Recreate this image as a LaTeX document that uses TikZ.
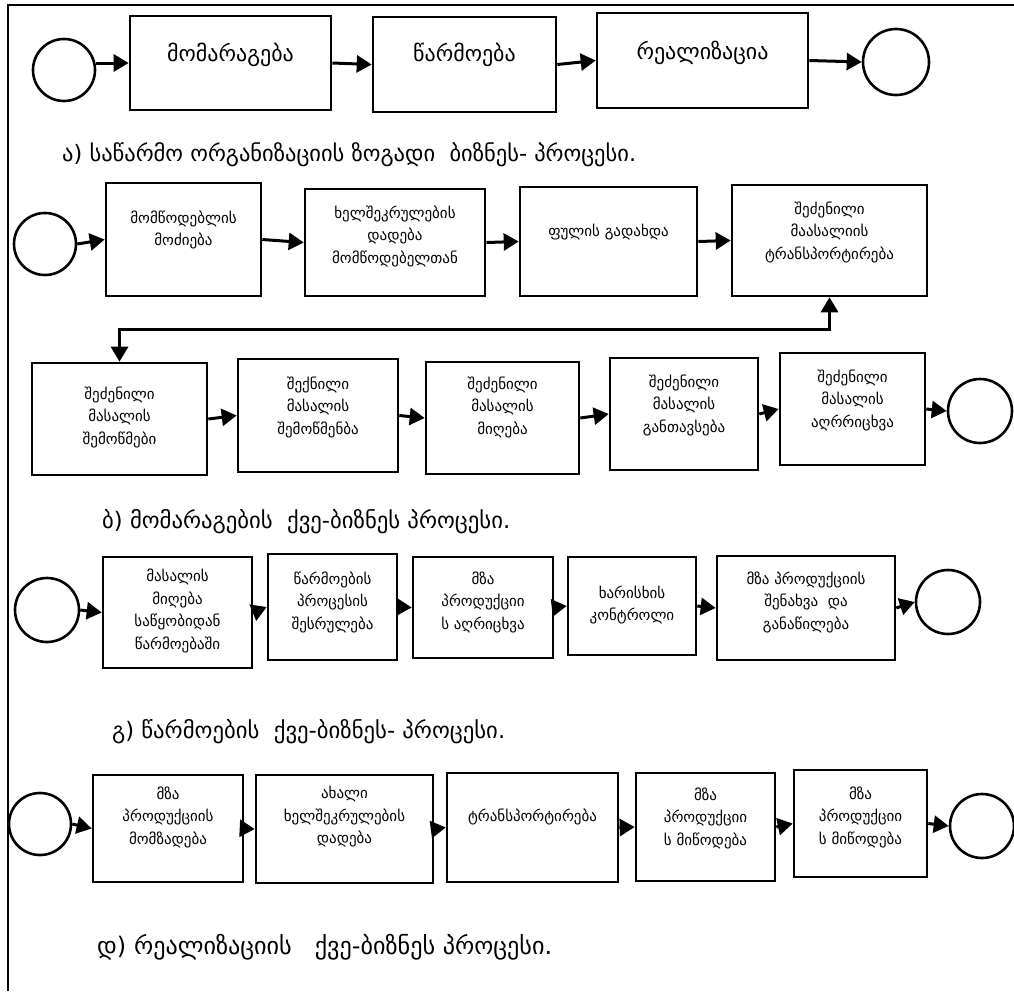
\documentclass[tikz,border=0pt]{standalone}
\usepackage{graphicx}
\usepackage{fontspec}
\setmainfont{DejaVu Sans}
\usetikzlibrary{arrows.meta}

\tikzset{
  pbox/.style={draw, line width=2.6pt, inner sep=0pt},
  ptext/.style={align=center, font=\fontsize{15}{22.5}\selectfont, inner sep=0pt},
  bigtext/.style={align=center, font=\fontsize{22}{26}\selectfont, inner sep=0pt},
  caption/.style={anchor=west, font=\fontsize{20}{24}\selectfont, inner sep=0pt},
  event/.style={draw, circle, line width=2.6pt, inner sep=0pt, minimum size=64pt},
  flow/.style={line width=3pt, -{Triangle[length=15pt,width=17pt]}},
  twoway/.style={line width=3pt, {Triangle[length=15pt,width=17pt]}-{Triangle[length=15pt,width=17pt]}},
  frame/.style={line width=2.5pt},
}

% #1 text style, #2 name, #3-#6 corners (x1,y1,x2,y2), #7 text centre y, #8 text
\newcommand{\procbox}[8]{%
  \node[pbox, minimum width={(#5-#3)*1pt}, minimum height={(#6-#4)*1pt}] (#2) at ({(#3+#5)/2},{(#4+#6)/2}) {};
  \node[#1] (#2-t) at ({(#3+#5)/2},#7) {#8};
}
% caption line set to a given width
\newcommand{\captext}[2]{\resizebox{#1pt}{!}{#2}}

\begin{document}
\begin{tikzpicture}[x=1pt,y=-1pt]
\useasboundingbox (0,0) rectangle (1014,991);

% outer frame (top and left sides)
\draw[frame] (8,991) -- (8,5) -- (1014,5);

% ---- a) general business process
\node[event, minimum size=62pt] (sa) at (64,70) {};
\procbox{bigtext}{A1}{130}{16}{331}{110}{55}{მომარაგება}
\procbox{bigtext}{A2}{373}{17}{556}{112}{55}{წარმოება}
\procbox{bigtext}{A3}{597}{13}{808}{108}{53}{რეალიზაცია}
\node[event, minimum size=66pt] (ea) at (896,62) {};
\draw[flow] (sa.east |- A1.west) -- (A1.west);
\draw[flow] (A1.east) -- (A2.west);
\draw[flow] (A2.east) -- (A3.west);
\draw[flow] (A3.east) -- (ea.west);
\node[caption] (capa) at (62,155) {\captext{574}{ა) საწარმო ორგანიზაციის ზოგადი\ \ ბიზნეს- პროცესი.}};

% ---- b) supply sub-process
\node[event, minimum size=62pt] (sb) at (45,244) {};
\procbox{ptext}{B1}{106}{183}{261}{296}{230}{მომწოდებლის\\მოძიება}
\procbox{ptext}{B2}{305}{189}{485}{296}{236}{ხელშეკრულების\\დადება\\მომწოდებელთან}
\procbox{ptext}{B3}{520}{187}{697}{296}{232}{ფულის გადახდა}
\procbox{ptext}{B4}{732}{185}{927}{296}{232}{შეძენილი\\მაასალიის\\ტრანსპორტირება}
\draw[flow] (sb.east) -- (B1.west);
\draw[flow] (B1.east) -- (B2.west);
\draw[flow] (B2.east) -- (B3.west);
\draw[flow] (B3.east) -- (B4.west);

\procbox{ptext}{C1}{32}{363}{207}{475}{417}{შეძენილი\\მასალის\\შემოწმები}
\procbox{ptext}{C2}{238}{359}{398}{472}{407}{შექნილი\\მასალის\\შემოწმენბა}
\procbox{ptext}{C3}{426}{362}{579}{474}{407}{შეძენილი\\მასალის\\მიღება}
\procbox{ptext}{C4}{610}{358}{758}{470}{405}{შეძენილი\\მასალის\\განთავსება}
\procbox{ptext}{C5}{780}{353}{925}{465}{400}{შეძენილი\\მასალის\\აღრრიცხვა}
\node[event] (eb) at (980,411) {};
\coordinate (loop) at (500,329);
\draw[twoway] (B4.south) -- (B4.south |- loop) -| (C1.north);
\draw[flow] (C1.east) -- (C2.west);
\draw[flow] (C2.east) -- (C3.west);
\draw[flow] (C3.east) -- (C4.west);
\draw[flow] (C4.east) -- (C5.west);
\draw[flow] (C5.east) -- (eb.west);
\node[caption] (capb) at (102,522) {\captext{408}{ბ) მომარაგების\ \ ქვე-ბიზნეს პროცესი.}};

% ---- c) production sub-process
\node[event] (sc) at (47,610) {};
\procbox{ptext}{D1}{103}{557}{252}{668}{611}{მასალის\\მიღება\\საწყობიდან\\წარმოებაში}
\procbox{ptext}{D2}{268}{554}{397}{660}{602}{წარმოების\\პროცესის\\შესრულება}
\procbox{ptext}{D3}{413}{557}{553}{658}{602}{მზა\\პროდუქციი\\ს აღრიცხვა}
\procbox{ptext}{D4}{568}{557}{696}{655}{605}{ხარისხის\\კონტროლი}
\procbox{ptext}{D5}{717}{556}{895}{660}{602}{მზა პროდუქციის\\შენახვა\ \ და\\განაწილება}
\node[event] (ec) at (948,602) {};
\draw[flow] (sc.east) -- (D1.west);
\draw[flow] (D1.east) -- (D2.west);
\draw[flow] (D2.east) -- (D3.west);
\draw[flow] (D3.east) -- (D4.west);
\draw[flow] (D4.east) -- (D5.west);
\draw[flow] (D5.east) -- (ec.west);
\node[caption] (capc) at (112,732) {\captext{393}{გ) წარმოების\ \ ქვე-ბიზნეს- პროცესი.}};

% ---- d) sales sub-process
\node[event, minimum size=62pt] (sd) at (40,824) {};
\procbox{ptext}{E1}{93}{775}{243}{882}{817}{მზა\\პროდუქციის\\მომზადება}
\procbox{ptext}{E2}{256}{775}{433}{883}{817}{ახალი\\ხელშეკრულების\\დადება}
\procbox{ptext}{E3}{447}{773}{618}{882}{817}{ტრანსპორტირება}
\procbox{ptext}{E4}{636}{773}{775}{881}{818}{მზა\\პროდუქციი\\ს მიწოდება}
\procbox{ptext}{E5}{794}{770}{927}{877}{817}{მზა\\პროდუქციი\\ს მიწოდება}
\node[event] (ed) at (982,826) {};
\draw[flow] (sd.east) -- (E1.west);
\draw[flow] (E1.east) -- (E2.west);
\draw[flow] (E2.east) -- (E3.west);
\draw[flow] (E3.east) -- (E4.west);
\draw[flow] (E4.east) -- (E5.west);
\draw[flow] (E5.east) -- (ed.west);
\node[caption] (capd) at (97,947) {\captext{455}{დ) რეალიზაციის\ \ \ ქვე-ბიზნეს პროცესი.}};
\end{tikzpicture}
\end{document}
